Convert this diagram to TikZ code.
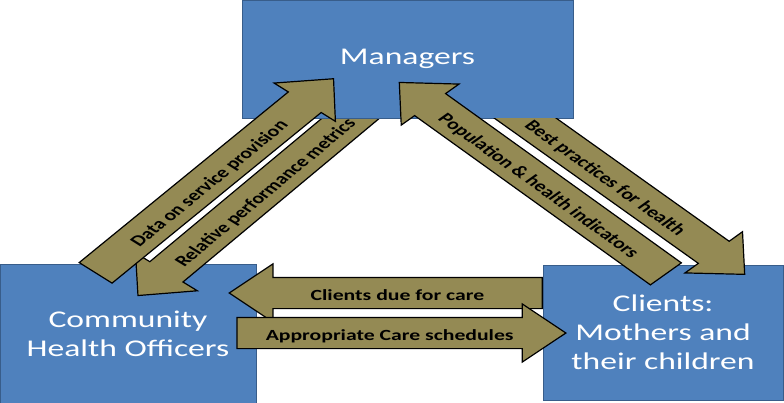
\documentclass[tikz,border=0pt]{standalone}
\usepackage{fontspec}
\setmainfont{Carlito}
\usetikzlibrary{shapes.arrows}

\definecolor{boxblue}{HTML}{4F81BD}
\definecolor{boxedge}{HTML}{385D8A}
\definecolor{flowfill}{HTML}{948A54}

\begin{document}
\begin{tikzpicture}[
    x=1pt, y=-1pt, xscale=1.4, transform shape,
    actor/.style={
        rectangle,
        draw=boxedge, line width=0.8pt, fill=boxblue,
        text=white, align=center,
        font=\fontsize{24}{29}\selectfont
    },
    flow/.style={
        single arrow, anchor=tail,
        draw=black, line width=1.2pt, fill=flowfill,
        minimum width=57pt,
        single arrow head extend=13.5pt,
        single arrow tip angle=86,
        inner xsep=2pt, inner ysep=0pt,
        text height=22pt, text depth=8pt,
        font=\bfseries\fontsize{15.5}{18}\selectfont
    },
    back/.style={shape border rotate=180}
]
\useasboundingbox (0,0) rectangle (560,402);

% Officers and clients
\node[actor, minimum width=182.9pt, minimum height=139pt] (cho) at (91.4,333.5) {Community\\Health Officers};
\node[actor, minimum width=171.4pt, minimum height=135pt] (client) at (473.6,332.5) {Clients:\\Mothers and\\their children};

% Tail ends of the arrows
\coordinate (dataTail) at (67.9,273.3);
\coordinate (metricTail) at (266.8,99.2);
\coordinate (popTail) at (476,274.3);
\coordinate (bestTail) at (347.3,90.4);
\coordinate (dueTail) at (387.9,293);
\coordinate (careTail) at (168.6,333);

% Feedback to officers, runs under the managers box
\node[flow, back, rotate=49.4, minimum height=258pt] (metric) at (metricTail) {Relative performance metrics};

% Managers
\node[actor, minimum width=236.4pt, minimum height=118pt] (mgr) at (291.1,59) {Managers};

\node[flow, rotate=48.8, minimum height=258pt] (data) at (dataTail) {Data on service provision};
\node[flow, back, rotate=-45.15, minimum height=270pt] (pop) at (popTail) {Population \& health indicators};

\begin{scope}
    \clip (mgr.south west) rectangle (client.south east);
    \node[flow, rotate=-44.9, minimum height=260pt] (best) at (bestTail) {Best practices for health};
\end{scope}

% Between officers and clients
\node[flow, back, minimum height=223.6pt] (due) at (dueTail) {Clients due for care};
\node[flow, minimum height=235pt] (care) at (careTail) {Appropriate Care schedules};

\end{tikzpicture}
\end{document}
